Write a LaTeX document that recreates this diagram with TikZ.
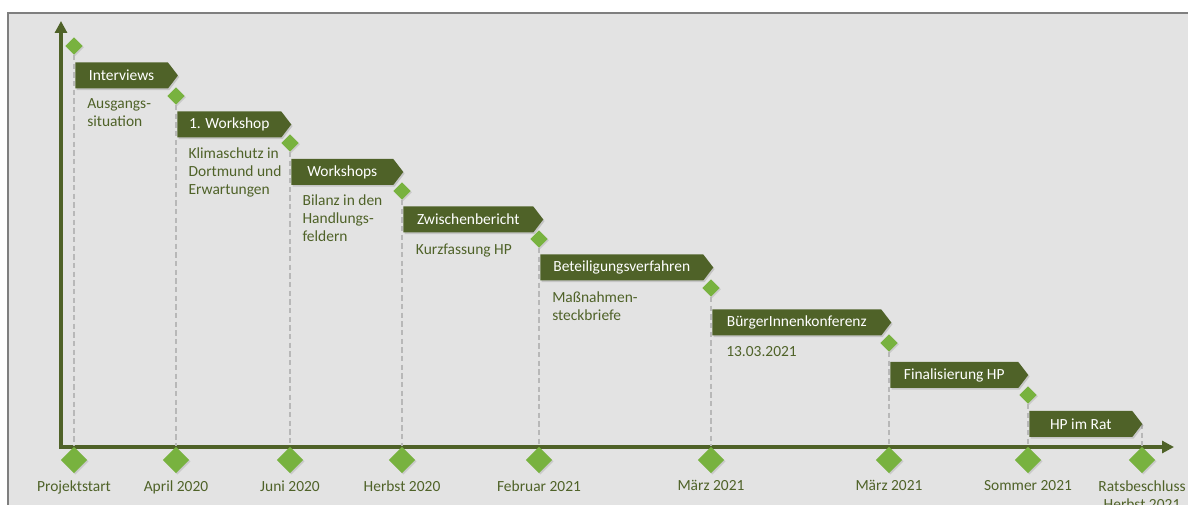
\documentclass[tikz,border=0pt]{standalone}
\usepackage{fontspec}
\setmainfont{Carlito}
\usepackage{xcolor}
\usetikzlibrary{positioning,shapes.symbols,shapes.geometric,arrows.meta,shadows}
\definecolor{olive}{HTML}{4F6228}
\definecolor{leaf}{HTML}{78B23F}
\definecolor{panel}{HTML}{E3E3E3}
\definecolor{frame}{HTML}{7F7F7F}

\begin{document}
\begin{tikzpicture}[
    x=0.75pt, y=-0.75pt,
    banner/.style={
        shape=signal, signal to=east, signal pointer angle=105,
        fill=olive, text=white, anchor=west,
        minimum height=19.5pt, minimum width=#1, inner xsep=3pt,
        font=\fontsize{11.6}{14}\selectfont,
        drop shadow={shadow xshift=1pt, shadow yshift=-1.2pt, opacity=0.3},
    },
    desc/.style={
        align=left, text=olive, inner sep=0pt,
        font=\fontsize{11.6}{13.5}\selectfont,
    },
    gem/.style={
        diamond, fill=leaf, minimum size=13pt, inner sep=0pt,
        drop shadow={shadow xshift=1pt, shadow yshift=-1pt, opacity=0.25},
    },
    biggem/.style={gem, minimum size=20pt},
    datelbl/.style={
        text=olive, align=center, inner sep=2pt,
        font=\fontsize{11.6}{13.5}\selectfont,
    },
    guide/.style={draw=black!28, line width=1.5pt, dash pattern=on 4pt off 2.5pt},
    axis/.style={draw=olive, line width=3pt},
]
\useasboundingbox (0,0) rectangle (1188,505);

% frame
\fill[white] (0,0) rectangle (1188,505);
\fill[panel] (8,13) rectangle (1188,505);
\draw[frame, line width=1.5pt] (8,505) -- (8,13) -- (1188,13);

% axes
\coordinate (origin) at (61,447);
\coordinate (ytip) at (61,21);
\coordinate (xtip) at (1174,447);
\draw[axis, {Triangle[length=9pt,width=9pt]}-{Triangle[length=9pt,width=9pt]}] (ytip) -- (origin) -- (xtip);

% milestones on the time axis
\node[biggem] (t1) at (74,460) {};
\node[biggem] (t2) at (176,460) {};
\node[biggem] (t3) at (290,460) {};
\node[biggem] (t4) at (402,460) {};
\node[biggem] (t5) at (539,460) {};
\node[biggem] (t6) at (711,460) {};
\node[biggem] (t7) at (889,460) {};
\node[biggem] (t8) at (1028,460) {};
\node[biggem] (t9) at (1142,460) {};

\node[datelbl, below=3pt of t1] (l1) {Projektstart};
\node[datelbl, below=3pt of t2] (l2) {April 2020};
\node[datelbl, below=3pt of t3] (l3) {Juni 2020};
\node[datelbl, below=3pt of t4] (l4) {Herbst 2020};
\node[datelbl, below=3pt of t5] (l5) {Februar 2021};
\node[datelbl, below=3pt of t6] (l6) {März 2021};
\node[datelbl, below=3pt of t7] (l7) {März 2021};
\node[datelbl, below=3pt of t8] (l8) {Sommer 2021};
\node[datelbl, below=3pt of t9] (l9) {Ratsbeschluss\\Herbst 2021};

% step markers
\node[gem] (s1) at (74,46) {};
\node[gem] (s2) at (176,96) {};
\node[gem] (s3) at (290,143) {};
\node[gem] (s4) at (402,191) {};
\node[gem] (s5) at (539,239) {};
\node[gem] (s6) at (711,288) {};
\node[gem] (s7) at (889,343) {};
\node[gem] (s8) at (1028,395) {};
\coordinate (r9) at (1142,424);

\draw[guide] (s1) -- (t1);
\draw[guide] (s2) -- (t2);
\draw[guide] (s3) -- (t3);
\draw[guide] (s4) -- (t4);
\draw[guide] (s5) -- (t5);
\draw[guide] (s6) -- (t6);
\draw[guide] (s7) -- (t7);
\draw[guide] (s8) -- (t8);
\draw[guide] (r9) -- (t9);

% phases
\node[banner=77pt] (b1) at (75,75.5) {Interviews};
\node[banner=85.5pt] (b2) at (177,124.5) {1. Workshop};
\node[banner=84pt] (b3) at (291,172) {Workshops};
\node[banner=105pt] (b4) at (403,219.5) {Zwischenbericht};
\node[banner=129.75pt] (b5) at (540,267.5) {Beteiligungsverfahren};
\node[banner=134.25pt] (b6) at (712,322.5) {BürgerInnenkonferenz};
\node[banner=103.5pt] (b7) at (890,375) {Finalisierung HP};
\node[banner=84.75pt] (b8) at (1029,424) {HP im Rat};

\node[desc, below right=7pt and 9pt of b1.south west] (d1) {Ausgangs-\\situation};
\node[desc, below right=7pt and 8.5pt of b2.south west] (d2) {Klimaschutz in\\Dortmund und\\Erwartungen};
\node[desc, below right=7pt and 8.5pt of b3.south west] (d3) {Bilanz in den\\Handlungs-\\feldern};
\node[desc, below right=8pt and 9.5pt of b4.south west] (d4) {Kurzfassung HP};
\node[desc, below right=8pt and 9pt of b5.south west] (d5) {Maßnahmen-\\steckbriefe};
\node[desc, below right=8pt and 10.5pt of b6.south west] (d6) {13.03.2021};

\end{tikzpicture}
\end{document}
